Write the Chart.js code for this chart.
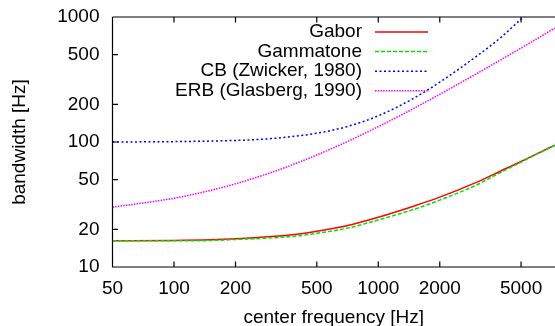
<!DOCTYPE html>
<html>
<head>
<meta charset="utf-8">
<script src="https://cdn.jsdelivr.net/npm/chart.js@4.4.1/dist/chart.umd.min.js"></script>
<style>
  html, body { margin: 0; padding: 0; background: #fff; overflow: hidden; }
</style>
</head>
<body>
<canvas id="bw" width="555" height="326"></canvas>
<script>
// filter bandwidth vs. center frequency, log-log
const freqs = [50, 100, 150, 200, 300, 400, 500, 700, 1000, 1500, 2000, 3000, 4000, 5000, 6000, 7330, 8000];
const gabor = [16.2, 16.3, 16.5, 16.8, 17.5, 18.3, 19.3, 21.4, 25.0, 30.8, 36.2, 47.3, 58.9, 69.8, 80.7, 94.3, 101];
const gammatone = [16.2, 16.2, 16.3, 16.6, 17.1, 17.7, 18.6, 20.4, 23.8, 29.0, 34.3, 45.0, 57.5, 69.0, 80.3, 94.3, 101];
const erbGlasberg = [30.1, 35.5, 40.9, 46.3, 57.1, 67.9, 78.7, 100.3, 132.6, 186.6, 240.6, 348.5, 456.5, 564.4, 672.3, 816, 888];
const cbFreqs = [50, 100, 200, 300, 500, 700, 1000, 1500, 2000, 3000, 4000, 5000, 5500];
const cbZwicker = [100, 100.7, 103, 106.5, 117.5, 132.5, 162, 225, 301, 480, 690, 960, 1080];
const xTicks = [50, 100, 200, 500, 1000, 2000, 5000];
const yTicks = [10, 20, 50, 100, 200, 500, 1000];

const FONT = 'Liberation Sans, Arial, Helvetica, sans-serif';
function pts(xs, ys) { return xs.map((x, i) => ({ x: x, y: ys[i] })); }

const series = [
  { label: 'Gabor', data: pts(freqs, gabor), color: '#ff0000', dash: [], order: 4 },
  { label: 'Gammatone', data: pts(freqs, gammatone), color: '#00e000', dash: [4, 2], order: 3 },
  { label: 'CB (Zwicker, 1980)', data: pts(cbFreqs, cbZwicker), color: '#0000ff', dash: [2, 2.5], order: 2 },
  { label: 'ERB (Glasberg, 1990)', data: pts(freqs, erbGlasberg), color: '#ff00ff', dash: [1.5, 1.2], order: 1 }
];

// gnuplot style box: top border, inward tick marks, legend with samples on the right
const frame = {
  id: 'frame',
  afterDraw(chart) {
    const ctx = chart.ctx, a = chart.chartArea;
    const xs = chart.scales.x, ys = chart.scales.y;
    const tl = 5.5;
    ctx.save();
    ctx.strokeStyle = '#000';
    ctx.lineWidth = 1.2;
    ctx.beginPath();
    ctx.moveTo(a.left, a.top); ctx.lineTo(a.right, a.top);
    ctx.moveTo(a.left, a.top); ctx.lineTo(a.left, a.bottom); ctx.lineTo(a.right, a.bottom);
    xTicks.forEach(v => {
      const px = xs.getPixelForValue(v);
      ctx.moveTo(px, a.bottom); ctx.lineTo(px, a.bottom - tl);
      ctx.moveTo(px, a.top); ctx.lineTo(px, a.top + tl);
    });
    yTicks.forEach(v => {
      const py = ys.getPixelForValue(v);
      ctx.moveTo(a.left, py); ctx.lineTo(a.left + tl, py);
    });
    ctx.stroke();

    ctx.font = '19px ' + FONT;
    ctx.textAlign = 'right';
    ctx.textBaseline = 'middle';
    ctx.fillStyle = '#000';
    chart.data.datasets.forEach((ds, i) => {
      const y = 32 + i * 19.6;
      ctx.fillText(ds.label, 362, y);
      ctx.save();
      ctx.strokeStyle = ds.borderColor;
      ctx.lineWidth = ds.borderWidth;
      ctx.setLineDash(ds.borderDash || []);
      ctx.beginPath();
      ctx.moveTo(375, y); ctx.lineTo(428, y);
      ctx.stroke();
      ctx.restore();
    });
    ctx.restore();
  }
};

new Chart(document.getElementById('bw'), {
  type: 'line',
  data: {
    datasets: series.map(s => ({
      label: s.label,
      data: s.data,
      borderColor: s.color,
      borderDash: s.dash,
      borderWidth: 1.5,
      pointRadius: 0,
      fill: false,
      cubicInterpolationMode: 'monotone',
      order: s.order
    }))
  },
  options: {
    responsive: false,
    animation: false,
    devicePixelRatio: 1,
    layout: { padding: { top: 17, right: 0, left: 0, bottom: 0 } },
    plugins: { legend: { display: false }, tooltip: { enabled: false } },
    scales: {
      x: {
        type: 'logarithmic',
        min: 50,
        max: 7330,
        afterBuildTicks: s => { s.ticks = xTicks.map(v => ({ value: v })); },
        afterFit: s => { s.height = 59; s.paddingLeft = 0; s.paddingRight = 0; },
        grid: { display: false, drawTicks: false },
        border: { display: false },
        ticks: { autoSkip: false, maxRotation: 0, padding: 10, color: '#000', font: { family: FONT, size: 19 }, callback: v => String(v) },
        title: { display: true, text: 'center frequency [Hz]', color: '#000', padding: 0, font: { family: FONT, size: 19, lineHeight: 0.9 } }
      },
      y: {
        type: 'logarithmic',
        min: 10,
        max: 1000,
        afterBuildTicks: s => { s.ticks = yTicks.map(v => ({ value: v })); },
        afterFit: s => { s.width = 112.5; s.paddingTop = 0; s.paddingBottom = 0; },
        grid: { display: false, drawTicks: false },
        border: { display: false },
        ticks: { autoSkip: false, padding: 13, color: '#000', font: { family: FONT, size: 19 }, callback: v => String(v) },
        title: { display: true, text: 'bandwidth [Hz]', color: '#000', padding: { top: 8.5, bottom: 0 }, font: { family: FONT, size: 19 } }
      }
    }
  },
  plugins: [frame]
});
</script>
</body>
</html>
